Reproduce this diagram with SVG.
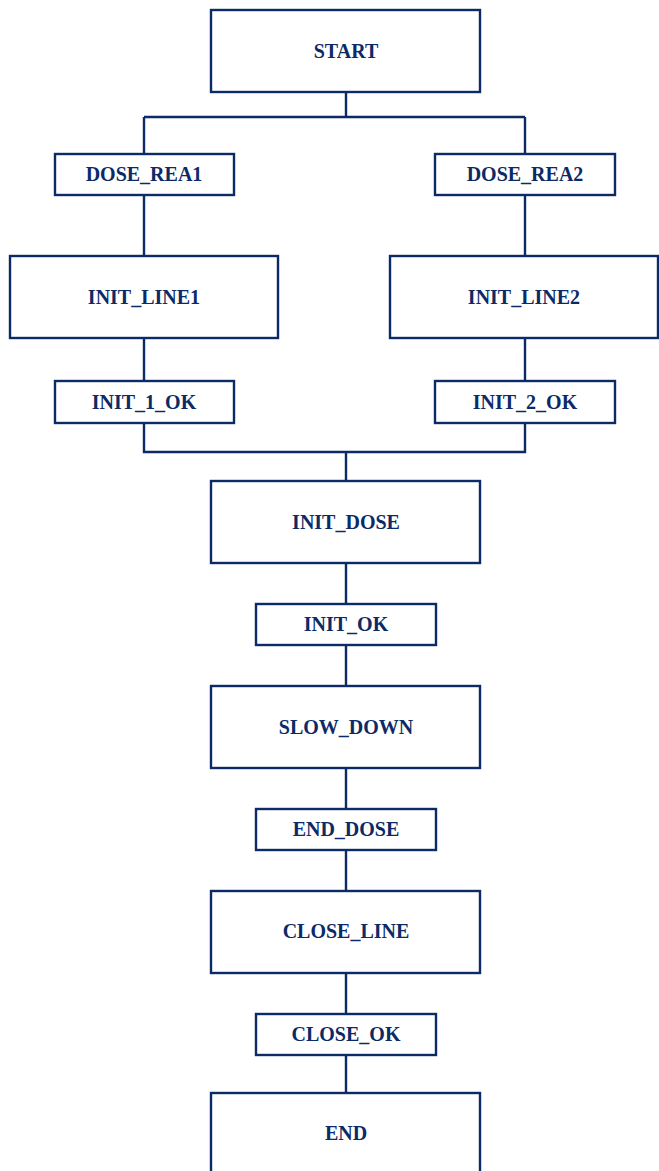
<svg xmlns="http://www.w3.org/2000/svg" width="659" height="1171" viewBox="0 0 659 1171">
<style>
rect{fill:#fff;stroke:#0b2a66;stroke-width:2.4}
text{font-family:"Liberation Serif","Times New Roman",serif;font-weight:bold;font-size:20px;fill:#0b2a66;text-anchor:middle}
#connectors path{fill:none;stroke:#0b2a66;stroke-width:2.4}
</style>
<rect x="0" y="0" width="659" height="1171" style="stroke:none"/>
<g id="connectors">
<path d="M346 92V117M144 117H525M144 117V154M525 117V154M144 195V256M525 195V256M144 338V381M525 338V381M144 423V452H525V423M346 452V481M346 563V604M346 645V686M346 768V809M346 850V891M346 973V1014M346 1055V1093"/>
</g>
<g id="start"><rect x="211" y="10" width="269" height="82"/><text x="346" y="58">START</text></g>
<g id="dose_rea1"><rect x="55" y="154" width="179" height="41"/><text x="144" y="181">DOSE_REA1</text></g>
<g id="dose_rea2"><rect x="435" y="154" width="180" height="41"/><text x="525" y="181">DOSE_REA2</text></g>
<g id="init_line1"><rect x="10" y="256" width="268" height="82"/><text x="144" y="304">INIT_LINE1</text></g>
<g id="init_line2"><rect x="390" y="256" width="268" height="82"/><text x="524" y="304">INIT_LINE2</text></g>
<g id="init_1_ok"><rect x="55" y="381" width="179" height="42"/><text x="144" y="409">INIT_1_OK</text></g>
<g id="init_2_ok"><rect x="435" y="381" width="180" height="42"/><text x="525" y="409">INIT_2_OK</text></g>
<g id="init_dose"><rect x="211" y="481" width="269" height="82"/><text x="346" y="529">INIT_DOSE</text></g>
<g id="init_ok"><rect x="256" y="604" width="180" height="41"/><text x="346" y="631">INIT_OK</text></g>
<g id="slow_down"><rect x="211" y="686" width="269" height="82"/><text x="346" y="734">SLOW_DOWN</text></g>
<g id="end_dose"><rect x="256" y="809" width="180" height="41"/><text x="346" y="836">END_DOSE</text></g>
<g id="close_line"><rect x="211" y="891" width="269" height="82"/><text x="346" y="938">CLOSE_LINE</text></g>
<g id="close_ok"><rect x="256" y="1014" width="180" height="41"/><text x="346" y="1041">CLOSE_OK</text></g>
<g id="end"><rect x="211" y="1093" width="269" height="90"/><text x="346" y="1140">END</text></g>
</svg>
